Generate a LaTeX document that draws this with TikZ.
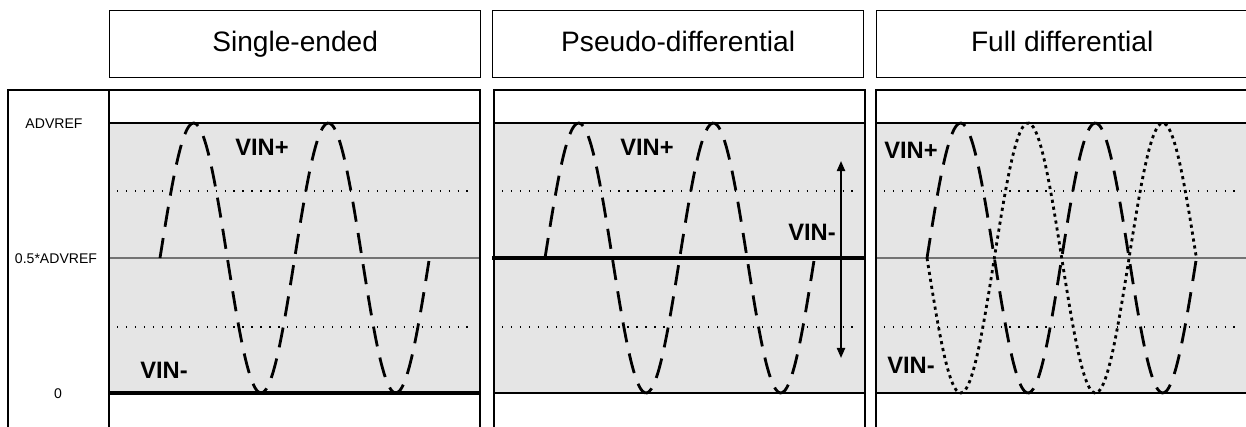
\documentclass[tikz,border=0pt]{standalone}
\usepackage{fontspec}
\setmainfont{Liberation Sans}
\usetikzlibrary{arrows.meta}

\tikzset{
  boxline/.style={draw, line width=0.8pt},
  headbox/.style={draw, line width=0.8pt, minimum width=7.42cm, minimum height=1.34cm,
    inner sep=0pt, text height=11.5pt, text depth=3.4pt, font=\fontsize{16}{19}\selectfont},
  band/.style={fill=black!10},
  gridline/.style={line width=0.7pt, dash pattern=on 0.7pt off 4.4pt},
  midline/.style={draw=black!55, line width=0.6pt},
  refline/.style={line width=1.8pt},
  vinp/.style={line width=1.6pt, dash pattern=on 11.5pt off 6.5pt},
  vinm/.style={line width=1.6pt, dash pattern=on 1.8pt off 2.2pt},
  siglabel/.style={font=\fontsize{13.5}{16}\selectfont\bfseries, inner sep=1pt},
  levellabel/.style={font=\fontsize{8}{10}\selectfont, inner sep=1pt},
  swing/.style={line width=1.1pt, {Triangle[length=5.7pt,width=4.6pt]}-{Triangle[length=5.7pt,width=4.6pt]}},
}

\begin{document}
\begin{tikzpicture}[x=0.02cm, y=-0.02cm]
    \useasboundingbox (0, 0) rectangle (1246, 426);
    \clip (0, 0) rectangle (1246, 426);

    % grey bands, grid and middle level
    \foreach \px in {109, 494, 876} {
        \fill[band] (\px, 123) rectangle (\px+371, 393);
        \draw[gridline] (\px+8, 191) -- (\px+363, 191);
        \draw[gridline] (\px+8, 327) -- (\px+363, 327);
        \draw[boxline] (\px, 123) -- (\px+371, 123);
        \draw[boxline] (\px, 393) -- (\px+371, 393);
    }
    \draw[midline] (109, 258) -- (480, 258);
    \draw[midline] (876, 258) -- (1247, 258);
    \draw[refline] (109, 393) -- (480, 393);
    \draw[refline] (492, 258) -- (866, 258);

    % signals
    \foreach \px in {109, 494, 876} {
        \draw[vinp] plot[domain=0:269.4, samples=120, smooth]
            ({\px+51+\x}, {258-135*sin(\x/134.7*360)});
    }
    \draw[vinm] plot[domain=0:269.4, samples=120, smooth]
        ({927+\x}, {258+135*sin(\x/134.7*360)});

    % headers and panel frames
    \foreach \px/\hx/\title [count=\i] in {109/109/Single-ended, 494/492/Pseudo-differential, 876/876/Full differential} {
        \node[headbox, anchor=north west] (head\i) at (\hx, 10) {\title};
        \draw[boxline] (\px, 440) -- (\px, 90) -- (\px+371, 90) -- (\px+371, 440);
    }
    \draw[boxline] (8, 440) -- (8, 90) -- (109, 90);

    % levels
    \node[levellabel] (lvltop) at (54, 124) {ADVREF};
    \node[levellabel] (lvlmid) at (56, 259) {0.5*ADVREF};
    \node[levellabel] (lvlzero) at (58, 394) {0};

    % signal names
    \node[siglabel] (sepos) at (262, 147) {VIN+};
    \node[siglabel] (seneg) at (164, 370) {VIN-};
    \node[siglabel] (pdpos) at (647, 147) {VIN+};
    \node[siglabel] (pdneg) at (812, 232) {VIN-};
    \node[siglabel] (fdpos) at (911, 150) {VIN+};
    \node[siglabel] (fdneg) at (911, 365) {VIN-};

    \coordinate (swingtop) at (841, 161);
    \coordinate (swingbot) at (841, 358);
    \draw[swing] (swingtop) -- (swingbot);

\end{tikzpicture}
\end{document}
